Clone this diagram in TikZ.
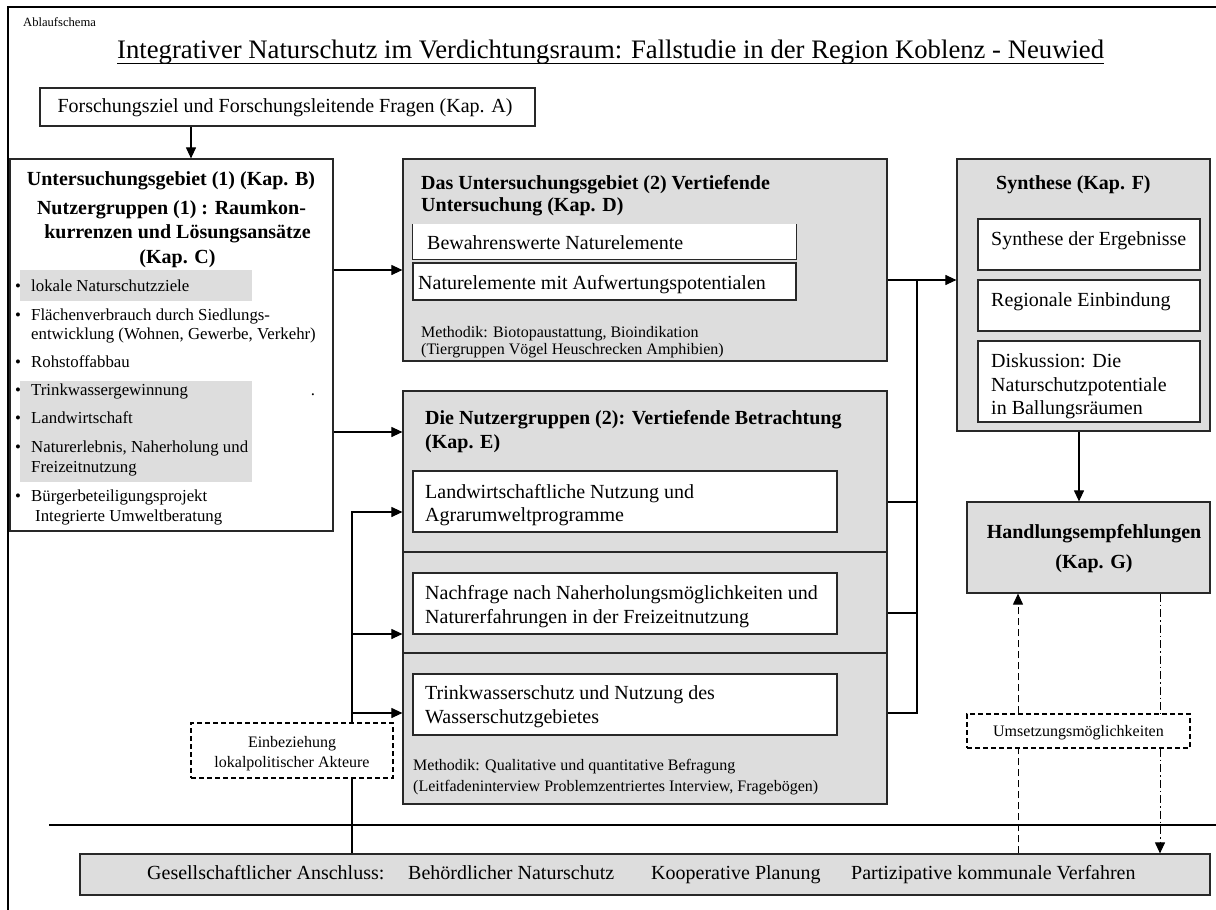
\documentclass[tikz,border=0pt]{standalone}
\usepackage{fontspec}
\setmainfont{Liberation Serif}
\usetikzlibrary{arrows.meta,calc}
\definecolor{boxgray}{RGB}{221,221,221}
\definecolor{edge}{RGB}{40,40,40}
\newcommand{\fT}{\fontsize{26.7}{32}\selectfont}
\newcommand{\fB}{\fontsize{20}{24}\selectfont}
\newcommand{\fI}{\fontsize{16.8}{20}\selectfont}
\newcommand{\fM}{\fontsize{16}{19}\selectfont}
\newcommand{\fS}{\fontsize{12.6}{15}\selectfont}
\tikzset{
  boxn/.style={rectangle, draw=edge, line width=1.2pt, inner sep=0pt},
  graybox/.style={boxn, fill=boxgray},
  whitebox/.style={boxn, fill=white},
  dashbox/.style={rectangle, draw=black, line width=1.3pt, dash pattern=on 5pt off 3pt, fill=white, inner sep=0pt},
  t/.style={inner sep=0pt, anchor=base west},
  tc/.style={inner sep=0pt, anchor=base},
  conn/.style={draw=black, line width=1.1pt},
  arr/.style={conn, -{Triangle[length=11pt,width=10pt]}},
  dashln/.style={conn, line width=1pt, dash pattern=on 7pt off 4pt},
  dotdash/.style={conn, line width=1pt, dash pattern=on 8pt off 3pt on 1.5pt off 3pt},
}
\begin{document}
\begin{tikzpicture}[x=1pt,y=-1pt]
\useasboundingbox (0,0) rectangle (1216,910);
% frame
\draw[line width=1.1pt] (1216,7) -- (8,7) -- (8,910);
\draw[line width=1.1pt] (49,825) -- (1216,825);

% header texts
\node[t] (abl) at (23,27) {\fS Ablaufschema};
\node[t] (title) at (117,58) {\fT Integrativer Naturschutz im Verdichtungsraum: Fallstudie in der Region Koblenz - Neuwied};
\draw[line width=1pt] ([yshift=-5pt]title.base west) -- ([yshift=-5pt]title.base east);

% boxes
\node[whitebox, minimum width=495pt, minimum height=38pt] (A) at (287.5,107) {};
\node[tc] (tA) at (285,112) {\fB Forschungsziel und Forschungsleitende Fragen (Kap. A)};

\node[whitebox, minimum width=323pt, minimum height=372pt] (L) at (171.5,345) {};
\fill[boxgray] (20,270) rectangle (252,301);
\fill[boxgray] (20,381) rectangle (252,482);

\node[graybox, minimum width=484pt, minimum height=202pt] (D) at (645,260) {};
\node[fill=white, inner sep=0pt, minimum width=383pt, minimum height=35pt] (D1) at (604.5,241.5) {};
\draw[edge, line width=1.2pt] (D1.north west) -- (D1.south west) -- (D1.south east) -- (D1.north east);
\node[whitebox, minimum width=383pt, minimum height=37pt] (D2) at (604.5,281.5) {};

\node[graybox, minimum width=484pt, minimum height=413pt] (E) at (645,597.5) {};
\coordinate (y552) at (0,552);
\coordinate (y653) at (0,653);
\draw[edge, line width=1.2pt] (E.west |- y552) -- (E.east |- y552);
\draw[edge, line width=1.2pt] (E.west |- y653) -- (E.east |- y653);
\node[whitebox, minimum width=424pt, minimum height=61pt] (E1) at (625,501.5) {};
\node[whitebox, minimum width=424pt, minimum height=61pt] (E2) at (625,603.5) {};
\node[whitebox, minimum width=424pt, minimum height=61pt] (E3) at (625,704.5) {};

\node[graybox, minimum width=253pt, minimum height=272pt] (S) at (1083.5,295) {};
\node[whitebox, minimum width=222pt, minimum height=51pt] (S1) at (1089,244.5) {};
\node[whitebox, minimum width=222pt, minimum height=51pt] (S2) at (1089,305.5) {};
\node[whitebox, minimum width=222pt, minimum height=81pt] (S3) at (1089,381.5) {};

\node[graybox, minimum width=243pt, minimum height=91pt] (H) at (1088.5,547.5) {};
\node[dashbox, minimum width=223pt, minimum height=34pt] (U) at (1078.5,731) {};
\node[dashbox, minimum width=202pt, minimum height=55pt] (Ein) at (292,750.5) {};
\node[graybox, minimum width=1130pt, minimum height=41pt] (Bar) at (645,874.5) {};

% left box texts
\node[tc] (l1) at (171,185) {\fB\bfseries Untersuchungsgebiet (1) (Kap. B)};
\node[tc] (l2) at (171.5,214) {\fB\bfseries Nutzergruppen (1) : Raumkon-};
\node[tc] (l3) at (177.5,238) {\fB\bfseries kurrenzen und Lösungsansätze};
\node[tc] (l4) at (177.5,263) {\fB\bfseries (Kap. C)};
\node[tc] (b1) at (18,291) {\fI •};
\node[t] (i1) at (31,291) {\fI lokale Naturschutzziele};
\node[tc] (b2) at (18,320) {\fI •};
\node[t] (i2) at (31,320) {\fI Flächenverbrauch durch Siedlungs-};
\node[t] (i2b) at (31,339) {\fI entwicklung (Wohnen, Gewerbe, Verkehr)};
\node[tc] (b3) at (18,367) {\fI •};
\node[t] (i3) at (31,367) {\fI Rohstoffabbau};
\node[tc] (b4) at (18,395) {\fI •};
\node[t] (i4) at (31,395) {\fI Trinkwassergewinnung};
\node[tc] (dot) at (313,395) {\fI .};
\node[tc] (b5) at (18,423) {\fI •};
\node[t] (i5) at (31,423) {\fI Landwirtschaft};
\node[tc] (b6) at (18,452) {\fI •};
\node[t] (i6) at (31,452) {\fI Naturerlebnis, Naherholung und};
\node[t] (i6b) at (31,472) {\fI Freizeitnutzung};
\node[tc] (b7) at (18,501) {\fI •};
\node[t] (i7) at (31,501) {\fI Bürgerbeteiligungsprojekt};
\node[t] (i7b) at (35,521) {\fI Integrierte Umweltberatung};

% box D texts
\node[t] (dh1) at (421,189) {\fB\bfseries Das Untersuchungsgebiet (2) Vertiefende};
\node[t] (dh2) at (421,211) {\fB\bfseries Untersuchung (Kap. D)};
\node[t] (d1t) at (427,249) {\fB Bewahrenswerte Naturelemente};
\node[t] (d2t) at (418,289) {\fB Naturelemente mit Aufwertungspotentialen};
\node[t] (dm1) at (421,337) {\fM Methodik: Biotopaustattung, Bioindikation};
\node[t] (dm2) at (421,354) {\fM (Tiergruppen Vögel Heuschrecken Amphibien)};

% box E texts
\node[t] (eh1) at (425,424) {\fB\bfseries Die Nutzergruppen (2): Vertiefende Betrachtung};
\node[t] (eh2) at (425,448) {\fB\bfseries (Kap. E)};
\node[t] (e1a) at (425,498) {\fB Landwirtschaftliche Nutzung und};
\node[t] (e1b) at (425,521) {\fB Agrarumweltprogramme};
\node[t] (e2a) at (425,599) {\fB Nachfrage nach Naherholungsmöglichkeiten und};
\node[t] (e2b) at (425,623) {\fB Naturerfahrungen in der Freizeitnutzung};
\node[t] (e3a) at (425,699) {\fB Trinkwasserschutz und Nutzung des};
\node[t] (e3b) at (425,723) {\fB Wasserschutzgebietes};
\node[t] (em1) at (413,770) {\fM Methodik: Qualitative und quantitative Befragung};
\node[t] (em2) at (413,791) {\fM (Leitfadeninterview Problemzentriertes Interview, Fragebögen)};

% Synthese texts
\node[t] (sh) at (996,189) {\fB\bfseries Synthese (Kap. F)};
\node[t] (s1t) at (991,245) {\fB Synthese der Ergebnisse};
\node[t] (s2t) at (991,306) {\fB Regionale Einbindung};
\node[t] (s3a) at (991,367) {\fB Diskussion: Die};
\node[t] (s3b) at (991,391) {\fB Naturschutzpotentiale};
\node[t] (s3c) at (991,414) {\fB in Ballungsräumen};

% Handlung
\node[tc] (h1) at (1094,538) {\fB\bfseries Handlungsempfehlungen};
\node[tc] (h2) at (1094,568) {\fB\bfseries (Kap. G)};

% dashed box texts
\node[tc] (ut) at (1078.5,736) {\fM Umsetzungsmöglichkeiten};
\node[tc] (ein1) at (292,747) {\fM Einbeziehung};
\node[tc] (ein2) at (292,767) {\fM lokalpolitischer Akteure};

% bar texts
\node[t] (g1) at (147,879) {\fB Gesellschaftlicher Anschluss:};
\node[t] (g2) at (408,879) {\fB Behördlicher Naturschutz};
\node[t] (g3) at (651,879) {\fB Kooperative Planung};
\node[t] (g4) at (851,879) {\fB Partizipative kommunale Verfahren};

% helper coordinates
\coordinate (x191) at (191,0);
\coordinate (y270) at (0,270);
\coordinate (y432) at (0,432);
\coordinate (fx) at (352,0);
\coordinate (y512) at (0,512);
\coordinate (y634) at (0,634);
\coordinate (y713) at (0,713);
\coordinate (cx) at (917,0);
\coordinate (y280) at (0,280);
\coordinate (y502) at (0,502);
\coordinate (y613) at (0,613);
\coordinate (x1079) at (1079,0);
\coordinate (x1018) at (1018,0);
\coordinate (x1160) at (1160,0);

% connectors
\draw[arr] (A.south -| x191) -- (L.north -| x191);
\draw[arr] (L.east |- y270) -- (D.west |- y270);
\draw[arr] (L.east |- y432) -- (E.west |- y432);
\draw[arr] (Ein.north -| fx) |- (E.west |- y512);
\draw[arr] (fx |- y634) -- (E.west |- y634);
\draw[arr] (fx |- y713) -- (E.west |- y713);
\draw[conn] (Ein.south -| fx) -- (Bar.north -| fx);

\draw[arr] (D.east |- y280) -- (S.west |- y280);
\draw[conn] (E.east |- y713) -| (cx |- y280);
\draw[conn] (E.east |- y502) -- (cx |- y502);
\draw[conn] (E.east |- y613) -- (cx |- y613);

\draw[arr] (S.south -| x1079) -- (H.north -| x1079);
\draw[dashln] (Bar.north -| x1018) -- (U.south -| x1018);
\draw[dashln, -{Triangle[length=11pt,width=10pt]}] (U.north -| x1018) -- (H.south -| x1018);
\draw[dotdash] (H.south -| x1160) -- (U.north -| x1160);
\draw[dotdash, -{Triangle[length=11pt,width=10pt]}] (U.south -| x1160) -- (Bar.north -| x1160);
\end{tikzpicture}
\end{document}
